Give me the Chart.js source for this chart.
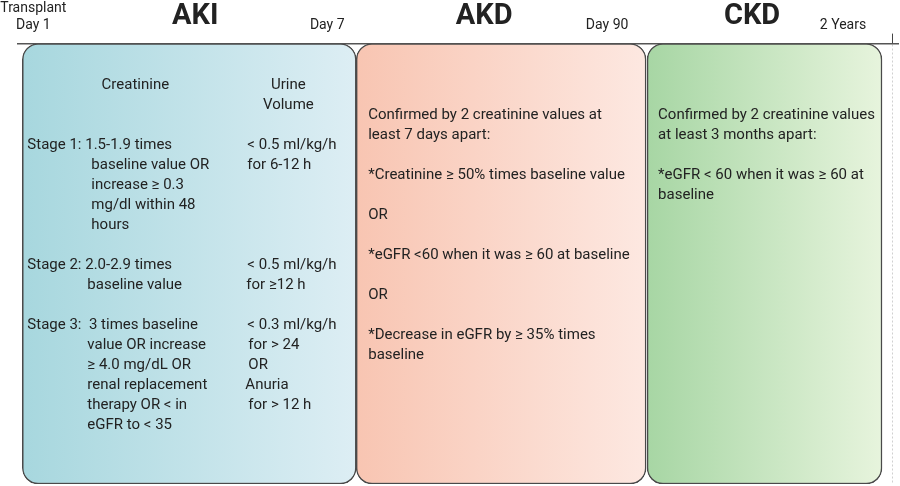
<!DOCTYPE html>
<html lang="en">
<head>
<meta charset="UTF-8">
<title>AKI / AKD / CKD timeline</title>
<script src="https://cdn.jsdelivr.net/npm/chart.js@4.4.1/dist/chart.umd.min.js"></script>
<style>
    html, body { margin: 0; padding: 0; background: #fff; }
    .wrap { width: 900px; height: 486px; }
</style>
</head>
<body>
<div class="wrap"><canvas id="kidneyChart"></canvas></div>
<script>
// schematic timeline units (not to scale)
const phases = ['AKI', 'AKD', 'CKD'];
const phaseStart = [5, 339, 630];
const phaseEnd = [339, 629, 865];
const phaseTitleAt = [178, 467, 735];
const phaseColors = [['#a7d7de', '#ddeef4'], ['#f8c5b2', '#fde8e1'], ['#a7d6a4', '#e7f4dd']];

const milestoneAt = [16, 310, 590, 826, 875];
const milestoneLabels = [['Transplant', 'Day 1'], 'Day 7', 'Day 90', '2 Years', ''];

// text inside boxes: [phase index, offset from box left, row, text, align]
const boxText = [
    [0, 113, 0, 'Creatinine', 'center'],
    [0, 266, 0, 'Urine', 'center'],
    [0, 266, 1, 'Volume', 'center'],
    [0, 5, 3, 'Stage 1: 1.5-1.9 times'],
    [0, 69, 4, 'baseline value OR'],
    [0, 69, 5, 'increase \u2265 0.3'],
    [0, 69, 6, 'mg/dl within 48'],
    [0, 69, 7, 'hours'],
    [0, 225, 3, '< 0.5 ml/kg/h'],
    [0, 225, 4, 'for 6-12 h'],
    [0, 5, 9, 'Stage 2: 2.0-2.9 times'],
    [0, 65, 10, 'baseline value'],
    [0, 225, 9, '< 0.5 ml/kg/h'],
    [0, 224, 10, 'for \u226512 h'],
    [0, 5, 12, 'Stage 3:  3 times baseline'],
    [0, 65, 13, 'value OR increase'],
    [0, 65, 14, '\u2265 4.0 mg/dL OR'],
    [0, 65, 15, 'renal replacement'],
    [0, 65, 16, 'therapy OR < in'],
    [0, 65, 17, 'eGFR to < 35'],
    [0, 225, 12, '< 0.3 ml/kg/h'],
    [0, 226, 13, 'for > 24'],
    [0, 226, 14, 'OR'],
    [0, 223, 15, 'Anuria'],
    [0, 226, 16, 'for > 12 h'],
    [1, 12, 1.5, 'Confirmed by 2 creatinine values at'],
    [1, 12, 2.5, 'least 7 days apart:'],
    [1, 12, 4.5, '*Creatinine \u2265 50% times baseline value'],
    [1, 12, 6.5, 'OR'],
    [1, 12, 8.5, '*eGFR <60 when it was \u2265 60 at baseline'],
    [1, 12, 10.5, 'OR'],
    [1, 12, 12.5, '*Decrease in eGFR by \u2265 35% times'],
    [1, 12, 13.5, 'baseline'],
    [2, 11, 1.5, 'Confirmed by 2 creatinine values'],
    [2, 11, 2.5, 'at least 3 months apart:'],
    [2, 11, 4.5, '*eGFR < 60 when it was \u2265 60 at'],
    [2, 11, 5.5, 'baseline']
];

const FONT = 'Roboto, "Noto Sans", sans-serif';

function boxGradient(ctx) {
    const chart = ctx.chart;
    const i = ctx.dataIndex;
    const x = chart.scales.x;
    if (!chart.chartArea || !x) return phaseColors[i][0];
    const g = chart.ctx.createLinearGradient(x.getPixelForValue(phaseStart[i]), 0, x.getPixelForValue(phaseEnd[i]), 0);
    g.addColorStop(0, phaseColors[i][0]);
    g.addColorStop(1, phaseColors[i][1]);
    return g;
}

const textPlugin = {
    id: 'boxText',
    afterDatasetsDraw(chart) {
        const ctx = chart.ctx;
        const x = chart.scales.x;
        const top = chart.chartArea.top;
        ctx.save();
        ctx.fillStyle = '#222';
        ctx.textBaseline = 'middle';
        ctx.font = '15px ' + FONT;
        boxText.forEach(([p, dx, row, text, align]) => {
            ctx.textAlign = align || 'left';
            ctx.fillText(text, x.getPixelForValue(phaseStart[p]) + dx, top + 42 + row * 20);
        });
        // phase titles above the axis
        ctx.font = 'bold 29px ' + FONT;
        ctx.textAlign = 'center';
        phases.forEach((name, i) => {
            ctx.fillText(name, x.getPixelForValue(phaseTitleAt[i]), 17);
        });
        ctx.restore();
    }
};

new Chart(document.getElementById('kidneyChart'), {
    type: 'bar',
    data: {
        labels: ['timeline'],
        datasets: [{
            data: phases.map((p, i) => ({ x: [phaseStart[i], phaseEnd[i]], y: 'timeline' })),
            backgroundColor: boxGradient,
            borderColor: '#4a4a4a',
            borderWidth: 1.5,
            borderRadius: 16,
            borderSkipped: false,
            barPercentage: 1,
            categoryPercentage: 1
        }]
    },
    options: {
        indexAxis: 'y',
        responsive: true,
        maintainAspectRatio: false,
        animation: false,
        layout: { padding: { left: 17, right: 2, top: 0, bottom: 2 } },
        plugins: {
            legend: { display: false },
            tooltip: { enabled: false }
        },
        scales: {
            x: {
                type: 'linear',
                position: 'top',
                min: 0,
                max: 881,
                afterBuildTicks: (scale) => {
                    scale.ticks = milestoneAt.map(v => ({ value: v }));
                },
                ticks: {
                    autoSkip: false,
                    maxRotation: 0,
                    padding: 0,
                    color: '#222',
                    font: { family: FONT, size: 14 },
                    callback: (value, index) => milestoneLabels[index]
                },
                grid: {
                    drawOnChartArea: true,
                    tickLength: 10,
                    color: (c) => c.index === milestoneAt.length - 1 ? '#d0d0d0' : 'transparent',
                    tickColor: (c) => c.index === milestoneAt.length - 1 ? '#444' : 'transparent',
                    tickBorderDash: [],
                    lineWidth: 1
                },
                border: { display: true, color: '#555', width: 1.5, dash: [2, 2] }
            },
            y: {
                display: false
            }
        }
    },
    plugins: [textPlugin]
});
</script>
</body>
</html>
